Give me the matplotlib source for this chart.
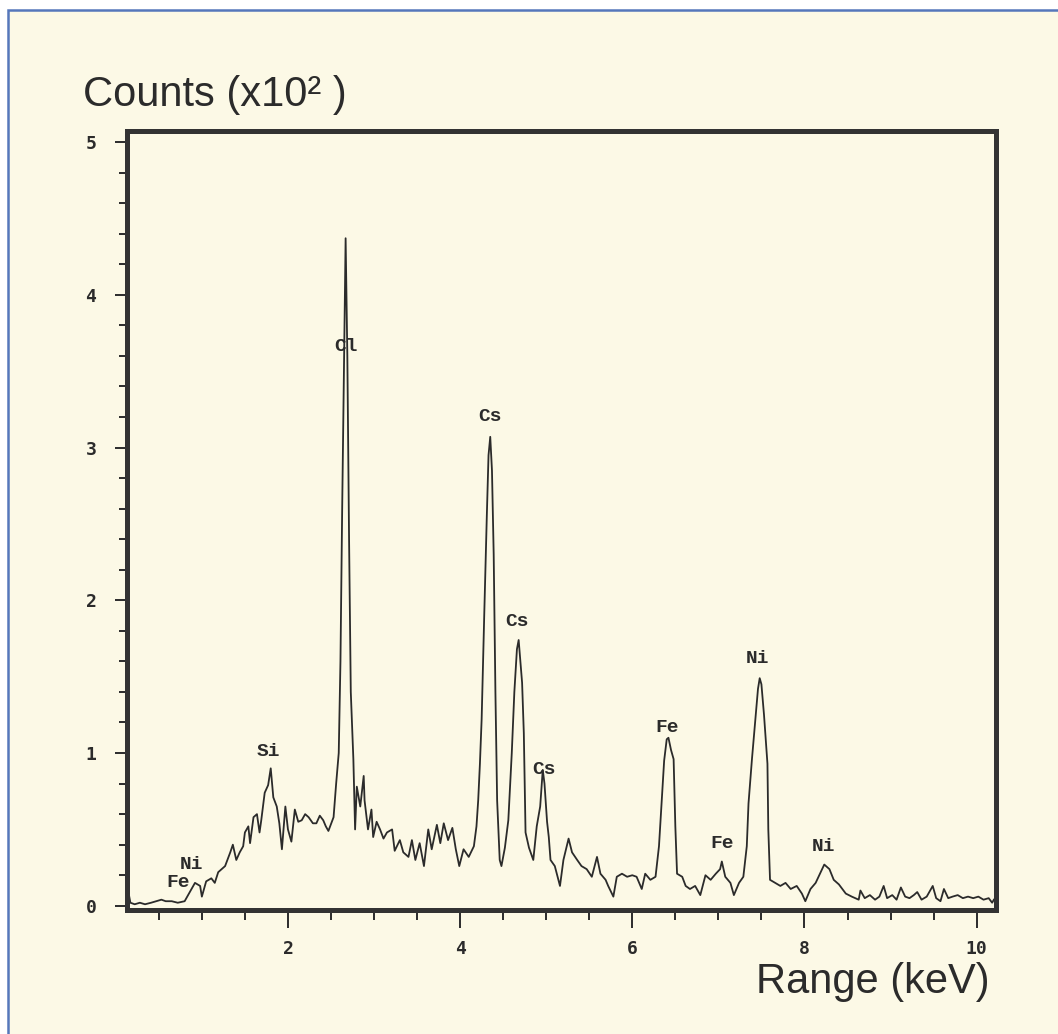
import matplotlib
matplotlib.use('Agg')
import matplotlib.pyplot as plt
from matplotlib.patches import Rectangle
from matplotlib.ticker import MultipleLocator, FixedLocator

# EDS spectrum: energy (keV) and counts (x100)
keV = [0.13, 0.15, 0.17, 0.22, 0.28, 0.34, 0.41, 0.47, 0.53, 0.58, 0.65, 0.72, 0.80, 0.86,
       0.92, 0.98, 1.00, 1.05, 1.11, 1.15, 1.19, 1.27, 1.33, 1.36, 1.40, 1.44, 1.48, 1.50,
       1.54, 1.56, 1.60, 1.64, 1.67, 1.69, 1.73, 1.77, 1.80, 1.83, 1.87, 1.90, 1.93, 1.97,
       2.00, 2.04, 2.08, 2.12, 2.16, 2.20, 2.24, 2.29, 2.33, 2.37, 2.41, 2.44, 2.47, 2.53,
       2.56, 2.59,
       2.61, 2.63, 2.65, 2.67, 2.69, 2.71, 2.73, 2.76, 2.78, 2.80, 2.84, 2.88, 2.89, 2.93,
       2.97, 2.99, 3.03, 3.07, 3.11, 3.15, 3.21, 3.24, 3.30, 3.34, 3.40, 3.44, 3.48, 3.53,
       3.58, 3.63, 3.67, 3.73, 3.77, 3.81, 3.86, 3.91, 3.95, 3.99, 4.04, 4.10, 4.16, 4.19,
       4.21, 4.23, 4.25,
       4.28, 4.31, 4.33, 4.35, 4.37, 4.39, 4.41, 4.43, 4.46, 4.48, 4.52, 4.56, 4.60, 4.63,
       4.66, 4.68, 4.70, 4.72, 4.74, 4.76, 4.80, 4.85, 4.89, 4.93, 4.96, 4.98, 5.01, 5.03,
       5.05, 5.10, 5.16, 5.20, 5.26, 5.30, 5.36, 5.41, 5.47, 5.53, 5.59, 5.63, 5.69, 5.72,
       5.78, 5.82, 5.88, 5.94, 6.00, 6.05, 6.11, 6.15, 6.21, 6.27, 6.31, 6.34, 6.37, 6.40,
       6.42, 6.45, 6.48, 6.50, 6.52, 6.58, 6.62, 6.67, 6.73, 6.79, 6.85, 6.91, 6.97, 7.02,
       7.04, 7.08, 7.14, 7.18, 7.24, 7.29, 7.33, 7.35, 7.39, 7.43, 7.46, 7.48, 7.50, 7.53,
       7.57, 7.58, 7.60, 7.66, 7.72, 7.78, 7.84, 7.91, 7.97, 8.01, 8.07, 8.13, 8.18, 8.23,
       8.29, 8.34, 8.40, 8.48, 8.55, 8.63, 8.65, 8.70, 8.76, 8.82, 8.87, 8.92, 8.96, 9.02,
       9.07, 9.12, 9.17, 9.22, 9.27, 9.31, 9.36, 9.42, 9.49, 9.53, 9.58, 9.62, 9.67, 9.72,
       9.78, 9.84, 9.90, 9.96, 10.02, 10.08, 10.14, 10.18, 10.20]
counts = [0.02, 0.08, 0.02, 0.01, 0.02, 0.01, 0.02, 0.03, 0.04, 0.03, 0.03, 0.02, 0.03, 0.09,
          0.15, 0.13, 0.06, 0.16, 0.18, 0.15, 0.22, 0.26, 0.35, 0.40, 0.30, 0.35, 0.39, 0.48,
          0.52, 0.41, 0.58, 0.60, 0.48, 0.56, 0.74, 0.79, 0.90, 0.71, 0.65, 0.54, 0.37, 0.65,
          0.50, 0.42, 0.63, 0.55, 0.56, 0.60, 0.58, 0.54, 0.54, 0.59, 0.56, 0.52, 0.49, 0.58,
          0.80, 1.00,
          1.60, 2.60, 3.50, 4.37, 3.60, 2.40, 1.40, 0.96, 0.50, 0.78, 0.65, 0.85, 0.69, 0.50,
          0.63, 0.45, 0.55, 0.50, 0.44, 0.48, 0.50, 0.36, 0.43, 0.35, 0.32, 0.43, 0.30, 0.41,
          0.26, 0.50, 0.37, 0.53, 0.41, 0.54, 0.43, 0.51, 0.37, 0.26, 0.37, 0.32, 0.39, 0.52,
          0.69, 0.93, 1.22,
          1.90, 2.55, 2.95, 3.07, 2.85, 2.30, 1.40, 0.69, 0.30, 0.26, 0.38, 0.56, 1.00, 1.40,
          1.68, 1.74, 1.60, 1.46, 1.13, 0.48, 0.38, 0.30, 0.52, 0.65, 0.89, 0.80, 0.55, 0.45,
          0.30, 0.26, 0.13, 0.30, 0.44, 0.35, 0.30, 0.26, 0.24, 0.19, 0.32, 0.21, 0.17, 0.13,
          0.06, 0.19, 0.21, 0.19, 0.20, 0.19, 0.11, 0.21, 0.17, 0.19, 0.39, 0.67, 0.95, 1.09,
          1.10, 1.02, 0.96, 0.52, 0.21, 0.19, 0.13, 0.11, 0.13, 0.07, 0.20, 0.17, 0.21, 0.24,
          0.29, 0.19, 0.15, 0.07, 0.15, 0.19, 0.39, 0.67, 0.96, 1.22, 1.42, 1.49, 1.45, 1.25,
          0.93, 0.50, 0.17, 0.15, 0.13, 0.15, 0.11, 0.13, 0.08, 0.03, 0.11, 0.15, 0.21, 0.27,
          0.24, 0.17, 0.14, 0.08, 0.06, 0.04, 0.10, 0.05, 0.07, 0.04, 0.06, 0.13, 0.05, 0.07,
          0.04, 0.12, 0.06, 0.05, 0.07, 0.09, 0.04, 0.06, 0.13, 0.05, 0.03, 0.11, 0.05, 0.06,
          0.07, 0.05, 0.06, 0.05, 0.06, 0.04, 0.05, 0.02, 0.04]

# peak labels
peak_names = ['Fe', 'Ni', 'Si', 'Cl', 'Cs', 'Cs', 'Cs', 'Fe', 'Fe', 'Ni', 'Ni']
peak_x = [0.72, 0.88, 1.77, 2.68, 4.35, 4.66, 4.97, 6.40, 7.04, 7.45, 8.22]
peak_y = [0.15, 0.27, 1.01, 3.66, 3.20, 1.86, 0.89, 1.17, 0.41, 1.62, 0.39]

cream = '#fcf9e6'
ink = '#2b2b2b'

fig = plt.figure(figsize=(10.58, 10.34), dpi=100, facecolor='white')
fig.add_artist(Rectangle((8 / 1058, -0.05), 1.1, 1 - 10 / 1034 + 0.05,
                         transform=fig.transFigure, facecolor=cream,
                         edgecolor='#5577bb', linewidth=1.8, zorder=0))

ax = fig.add_axes([0.120, 0.120, 0.821, 0.753])
ax.set_facecolor('none')
ax.plot(keV, counts, color=ink, linewidth=1.3)

ax.set_xlim(0.13, 10.22)
ax.set_ylim(-0.027, 5.07)

ax.xaxis.set_major_locator(FixedLocator([2, 4, 6, 8, 10]))
ax.xaxis.set_minor_locator(MultipleLocator(0.5))
ax.yaxis.set_major_locator(MultipleLocator(1))
ax.yaxis.set_minor_locator(MultipleLocator(0.2))

for s in ax.spines.values():
    s.set_linewidth(3.6)
    s.set_color('#333333')

ax.tick_params(axis='x', which='major', length=13, width=1.4, pad=9, color=ink)
ax.tick_params(axis='x', which='minor', length=7, width=1.4, color=ink)
ax.tick_params(axis='y', which='major', length=9, width=1.4, pad=13, color=ink)
ax.tick_params(axis='y', which='minor', length=6, width=1.4, color=ink)
for lab in ax.get_xticklabels() + ax.get_yticklabels():
    lab.set_fontfamily('DejaVu Sans Mono')
    lab.set_fontweight('bold')
    lab.set_fontsize(13)
    lab.set_color(ink)

for name, x, y in zip(peak_names, peak_x, peak_y):
    ax.text(x, y, name, fontfamily='Liberation Mono', fontweight='bold',
            fontsize=14, color=ink, ha='center', va='center')

fig.text(83 / 1058, 1 - 95 / 1034, 'Counts (x10² )', fontfamily='Liberation Sans',
         fontsize=30, color=ink, ha='left', va='center')
fig.text(990 / 1058, 1 - 982 / 1034, 'Range (keV)', fontfamily='Liberation Sans',
         fontsize=30, color=ink, ha='right', va='center')

fig.savefig('out.png', dpi=100, facecolor=fig.get_facecolor())
